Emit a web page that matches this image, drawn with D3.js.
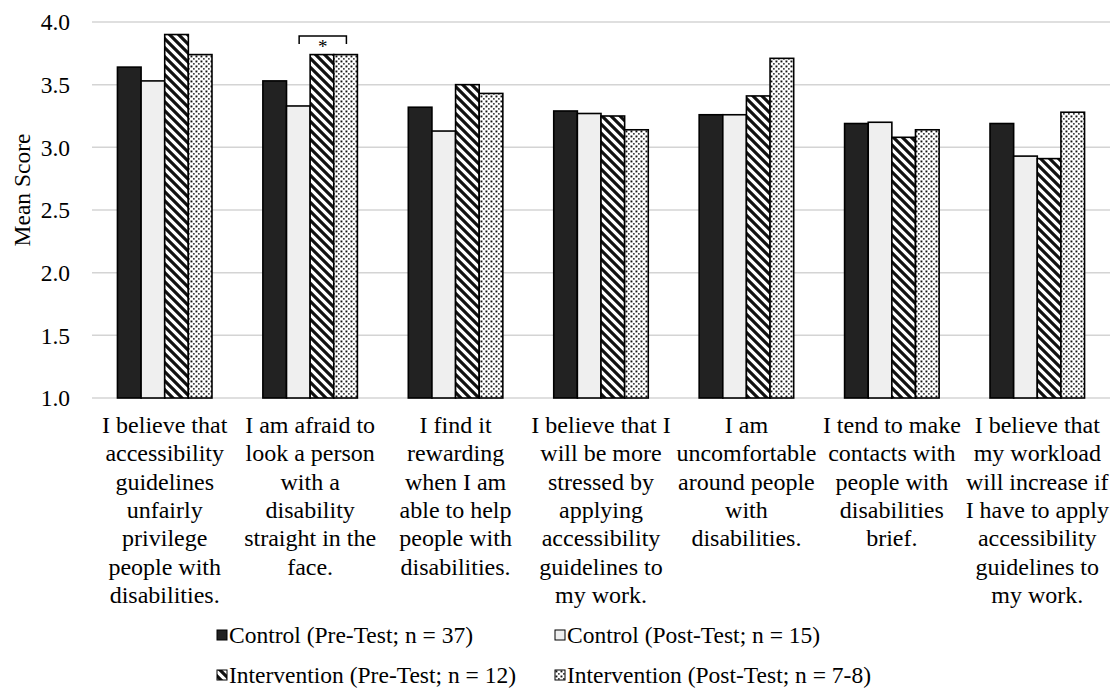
<!DOCTYPE html>
<html><head><meta charset="utf-8">
<script src="https://cdn.jsdelivr.net/npm/d3@7"></script>
<style>body{margin:0;background:#fff}</style>
</head><body>
<svg id="c" width="1117" height="692" style="font-family:'Liberation Serif','Times New Roman',serif"></svg>
<script>
const categories = [
  ["I believe that","accessibility","guidelines","unfairly","privilege","people with","disabilities."],
  ["I am afraid to","look a person","with a","disability","straight in the","face."],
  ["I find it","rewarding","when I am","able to help","people with","disabilities."],
  ["I believe that I","will be more","stressed by","applying","accessibility","guidelines to","my work."],
  ["I am","uncomfortable","around people","with","disabilities."],
  ["I tend to make","contacts with","people with","disabilities","brief."],
  ["I believe that","my workload","will increase if","I have to apply","accessibility","guidelines to","my work."]
];
const seriesNames = ["Control (Pre-Test; n = 37)","Control (Post-Test; n = 15)","Intervention (Pre-Test; n = 12)","Intervention (Post-Test; n = 7-8)"];
const controlPre       = [3.64, 3.53, 3.32, 3.29, 3.26, 3.19, 3.19];
const controlPost      = [3.53, 3.33, 3.13, 3.27, 3.26, 3.20, 2.93];
const interventionPre  = [3.90, 3.74, 3.50, 3.25, 3.41, 3.08, 2.91];
const interventionPost = [3.74, 3.74, 3.43, 3.14, 3.71, 3.14, 3.28];
const yTicks = [1.0, 1.5, 2.0, 2.5, 3.0, 3.5, 4.0];
const yTitle = "Mean Score";
const significance = [{cat: 1, from: 2, to: 3, label: "*"}];

const FONT = "'Liberation Serif','Times New Roman',serif";
const seriesValues = [controlPre, controlPost, interventionPre, interventionPost];
const fills = ["#222", "#efefef", "url(#hatch)", "url(#dots)"];

const svg = d3.select("#c");
const defs = svg.append("defs");
const hatch = defs.append("pattern").attr("id","hatch").attr("patternUnits","userSpaceOnUse")
  .attr("width",9).attr("height",9);
hatch.append("rect").attr("width",9).attr("height",9).attr("fill","#fff");
hatch.append("path").attr("d","M-3,-3 L12,12 M-3,6 L3,12 M6,-3 L12,3")
  .attr("stroke","#111").attr("stroke-width",3.2);
const dots = defs.append("pattern").attr("id","dots").attr("patternUnits","userSpaceOnUse")
  .attr("width",5).attr("height",5);
dots.append("rect").attr("width",5).attr("height",5).attr("fill","#fff");
dots.append("rect").attr("x",0.5).attr("y",0.5).attr("width",1.9).attr("height",1.9).attr("fill","#111");
dots.append("rect").attr("x",3).attr("y",3).attr("width",1.7).attr("height",1.7).attr("fill","#444");

const x = d3.scaleBand().domain(d3.range(categories.length)).range([92, 1110]).paddingInner(0).paddingOuter(0);
const groupW = x.bandwidth() * 0.65;
const xs = d3.scaleBand().domain(d3.range(seriesNames.length)).range([0, groupW]);
const y = d3.scaleLinear().domain([1, 4]).range([398, 22]);

// gridlines
svg.append("g").selectAll("line").data(yTicks).join("line")
  .attr("x1", 92).attr("x2", 1110)
  .attr("y1", d => y(d)).attr("y2", d => y(d))
  .attr("stroke", "#d4d4d4").attr("stroke-width", 1.5);

// y tick labels
const yAxis = d3.axisLeft(y).tickValues(yTicks).tickFormat(d3.format(".1f")).tickSize(0).tickPadding(0);
const ya = svg.append("g").attr("transform","translate(70,0)").call(yAxis)
  .attr("font-family", null).attr("font-size", null);
ya.select(".domain").remove();
ya.selectAll("text").style("font-size", "23.5px").style("font-family", FONT).attr("fill","#000").attr("dy","0.33em");

// y title
svg.append("text").attr("transform","translate(30,190) rotate(-90)")
  .attr("text-anchor","middle").style("font-size","23.5px").style("font-family",FONT).text(yTitle);

// bars
const data = [];
categories.forEach((c, i) => seriesValues.forEach((s, j) => data.push({i, j, v: s[i]})));
svg.append("g").selectAll("rect").data(data).join("rect")
  .attr("x", d => x(d.i) + (x.bandwidth() - groupW) / 2 + xs(d.j))
  .attr("width", xs.bandwidth())
  .attr("y", d => y(d.v))
  .attr("height", d => y(1) - y(d.v))
  .attr("fill", d => fills[d.j])
  .attr("stroke", "#000").attr("stroke-width", 1.6);

// significance bracket
significance.forEach(s => {
  const x0 = x(s.cat) + (x.bandwidth() - groupW) / 2 + xs(s.from) - 11;
  const x1 = x(s.cat) + (x.bandwidth() - groupW) / 2 + xs(s.to) + xs.bandwidth() - 11;
  const yb = 36;
  svg.append("path").attr("d", `M${x0},${yb+8} V${yb} H${x1} V${yb+8}`)
    .attr("fill","none").attr("stroke","#000").attr("stroke-width",1.5);
  svg.append("text").attr("x",(x0+x1)/2).attr("y",yb+17).attr("text-anchor","middle")
    .style("font-size","19px").style("font-family",FONT).text(s.label);
});

// category labels
const lab = svg.append("g");
categories.forEach((lines, i) => {
  const cx = x(i) + x.bandwidth()/2;
  const t = lab.append("text").attr("text-anchor","middle").style("font-size","24px").style("font-family",FONT);
  lines.forEach((ln, k) => t.append("tspan").attr("x", cx).attr("y", 433 + k*28.3).text(ln));
});

// legend
const legPos = [[217,643],[555,643],[217,683],[555,683]];
seriesNames.forEach((n, j) => {
  const [lx, ly] = legPos[j];
  svg.append("rect").attr("x", lx).attr("y", ly-13).attr("width",10).attr("height",10)
    .attr("fill", fills[j]).attr("stroke","#000").attr("stroke-width",1);
  svg.append("text").attr("x", lx+12).attr("y", ly).style("font-size","23.5px").style("font-family",FONT).text(n);
});
</script>
</body></html>
